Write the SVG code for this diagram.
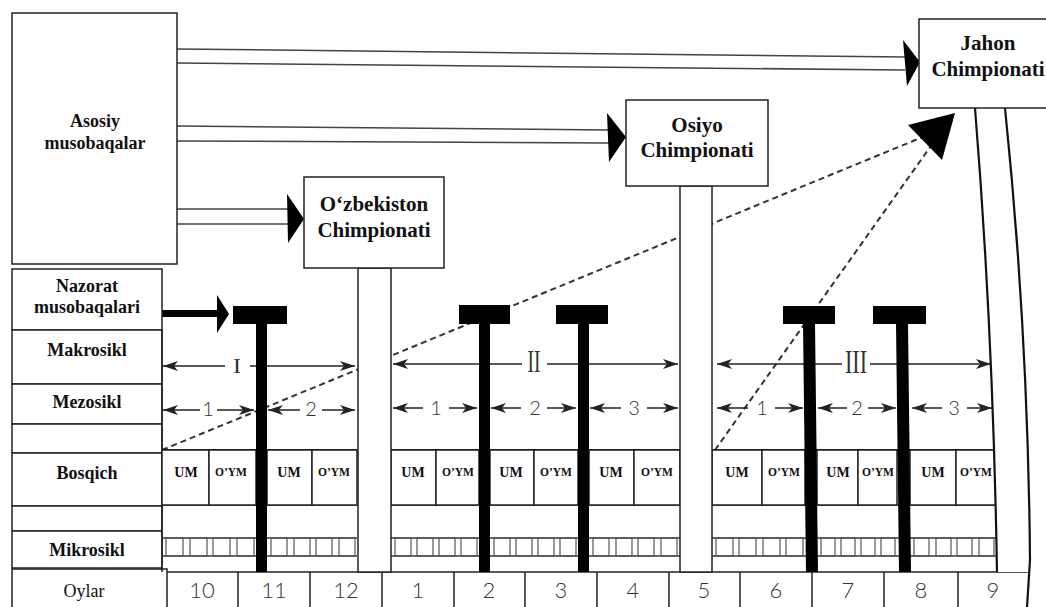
<svg xmlns="http://www.w3.org/2000/svg" width="1046" height="607" viewBox="0 0 1046 607">
<defs>
<style>
.box{fill:#fff;stroke:#222;stroke-width:1.5}
.ln{stroke:#222;stroke-width:1.5;fill:none}
.thick{stroke:#111;stroke-width:2.2;fill:none}
.thin{stroke:#333;stroke-width:1.4;fill:none}
.blk{fill:#000}
.dash{stroke:#333;stroke-width:2;stroke-dasharray:6 4;fill:none}
.pair{stroke:#444;stroke-width:1.5;fill:none}
.arr{stroke:#222;stroke-width:1.5;fill:none;marker-end:url(#ah)}
.sq{fill:none;stroke:#555;stroke-width:1.2}
.lbl{font-family:"Liberation Serif",serif;font-weight:bold;font-size:18px;text-anchor:middle;fill:#111}
.ttl{font-family:"Liberation Serif",serif;font-weight:bold;font-size:21px;text-anchor:middle;fill:#111}
.um{font-family:"Liberation Serif",serif;font-weight:bold;font-size:14px;text-anchor:middle;fill:#111}
.oym{font-family:"Liberation Serif",serif;font-weight:bold;font-size:11.5px;text-anchor:middle;fill:#111}
.num{font-family:Lato,"Liberation Sans",sans-serif;font-weight:300;font-size:20px;text-anchor:middle;fill:#333}
.mon{font-family:Lato,"Liberation Sans",sans-serif;font-weight:300;font-size:22px;text-anchor:middle;fill:#333}
.rom{font-family:"Liberation Serif",serif;text-anchor:middle;fill:#333}
</style>
<marker id="ah" markerWidth="15" markerHeight="10" refX="15" refY="5" orient="auto" markerUnits="userSpaceOnUse">
<path d="M0,0 L15,5 L0,10 L4,5 z" fill="#222"/>
</marker>
</defs>
<rect width="1046" height="607" fill="#fff"/>

<g id="connectors">
<line class="pair" x1="177" y1="49" x2="905" y2="57"/>
<line class="pair" x1="177" y1="63" x2="905" y2="70"/>
<polygon class="blk" points="903,40 907,86 920,62"/>
<line class="pair" x1="177" y1="126" x2="609" y2="130"/>
<line class="pair" x1="177" y1="141" x2="609" y2="143"/>
<polygon class="blk" points="607,113 609,162 626,137"/>
<line class="pair" x1="177" y1="209" x2="288" y2="209"/>
<line class="pair" x1="177" y1="224" x2="288" y2="224"/>
<polygon class="blk" points="287,194 288,243 304,219"/>
<rect class="blk" x="162" y="310" width="56" height="7"/>
<polygon class="blk" points="217,295 229,314 217,333"/>
<path class="dash" d="M162,450 L930,134"/>
<path class="dash" d="M715,450 L933,143"/>
<polygon class="blk" points="908,125 955,113 942,160"/>
</g>

<g id="left-labels">
<rect class="box" x="12" y="13" width="165" height="251"/>
<text class="lbl" x="95" y="127">Asosiy</text>
<text class="lbl" x="95" y="149">musobaqalar</text>
<rect class="box" x="12" y="269" width="150" height="61"/>
<text class="lbl" x="87" y="292">Nazorat</text>
<text class="lbl" x="87" y="313">musobaqalari</text>
<rect class="box" x="12" y="330" width="150" height="54"/>
<text class="lbl" x="87" y="356">Makrosikl</text>
<rect class="box" x="12" y="384" width="150" height="40"/>
<text class="lbl" x="87" y="408">Mezosikl</text>
<rect class="box" x="12" y="424" width="150" height="29"/>
<rect class="box" x="12" y="453" width="150" height="53"/>
<text class="lbl" x="87" y="479">Bosqich</text>
<rect class="box" x="12" y="506" width="150" height="25"/>
<rect class="box" x="12" y="531" width="150" height="37"/>
<text class="lbl" x="87" y="556">Mikrosikl</text>
<rect class="box" x="12" y="569" width="155" height="40"/>
<text x="84" y="597" style="font-family:'Liberation Serif',serif;font-size:18px;text-anchor:middle;fill:#111">Oylar</text>
</g>

<g id="section-1">
<line class="ln" x1="162" y1="330" x2="162" y2="572"/>
<line class="thick" x1="162" y1="450" x2="357" y2="450"/>
<line class="ln" x1="162" y1="505" x2="357" y2="505"/>
<rect class="box" x="162" y="450" width="47" height="55"/><text class="um" x="186" y="477">UM</text>
<rect class="box" x="209" y="450" width="47" height="55"/><text class="oym" x="231" y="476">O’YM</text>
<rect class="box" x="267" y="450" width="45" height="55"/><text class="um" x="289" y="477">UM</text>
<rect class="box" x="312" y="450" width="45" height="55"/><text class="oym" x="334" y="476">O’YM</text>
<line class="thin" x1="162" y1="538" x2="256" y2="538"/><line class="thin" x1="162" y1="556" x2="256" y2="556"/>
<line class="thin" x1="267" y1="538" x2="357" y2="538"/><line class="thin" x1="267" y1="556" x2="357" y2="556"/>
<rect class="sq" x="166" y="538" width="17" height="18"/><rect class="sq" x="190" y="538" width="17" height="18"/><rect class="sq" x="213" y="538" width="17" height="18"/><rect class="sq" x="237" y="538" width="17" height="18"/>
<rect class="sq" x="271" y="538" width="16" height="18"/><rect class="sq" x="294" y="538" width="16" height="18"/><rect class="sq" x="316" y="538" width="16" height="18"/><rect class="sq" x="339" y="538" width="16" height="18"/>
<line class="arr" x1="225" y1="366" x2="163" y2="366"/><line class="arr" x1="250" y1="366" x2="355" y2="366"/>
<text class="rom" x="237" y="373" style="font-size:22px" textLength="8" lengthAdjust="spacingAndGlyphs">I</text>
<line class="arr" x1="200" y1="410" x2="163" y2="410"/><line class="arr" x1="217" y1="410" x2="254" y2="410"/>
<text class="num" x="208" y="416">1</text>
<line class="arr" x1="300" y1="410" x2="268" y2="410"/><line class="arr" x1="322" y1="410" x2="355" y2="410"/>
<text class="num" x="311" y="416">2</text>
</g>

<g id="section-2">
<line class="thick" x1="391" y1="450" x2="680" y2="450"/>
<line class="ln" x1="391" y1="505" x2="680" y2="505"/>
<rect class="box" x="391" y="450" width="45" height="55"/><text class="um" x="413" y="477">UM</text>
<rect class="box" x="436" y="450" width="43" height="55"/><text class="oym" x="458" y="476">O’YM</text>
<rect class="box" x="490" y="450" width="44" height="55"/><text class="um" x="511" y="477">UM</text>
<rect class="box" x="534" y="450" width="44" height="55"/><text class="oym" x="556" y="476">O’YM</text>
<rect class="box" x="589" y="450" width="45" height="55"/><text class="um" x="611" y="477">UM</text>
<rect class="box" x="634" y="450" width="46" height="55"/><text class="oym" x="657" y="476">O’YM</text>
<line class="thin" x1="391" y1="538" x2="680" y2="538"/><line class="thin" x1="391" y1="556" x2="680" y2="556"/>
<rect class="sq" x="395" y="538" width="16" height="18"/><rect class="sq" x="417" y="538" width="16" height="18"/><rect class="sq" x="439" y="538" width="16" height="18"/><rect class="sq" x="461" y="538" width="16" height="18"/>
<rect class="sq" x="494" y="538" width="16" height="18"/><rect class="sq" x="516" y="538" width="16" height="18"/><rect class="sq" x="538" y="538" width="16" height="18"/><rect class="sq" x="560" y="538" width="16" height="18"/>
<rect class="sq" x="593" y="538" width="16" height="18"/><rect class="sq" x="616" y="538" width="16" height="18"/><rect class="sq" x="638" y="538" width="16" height="18"/><rect class="sq" x="661" y="538" width="16" height="18"/>
<line class="arr" x1="522" y1="364" x2="393" y2="364"/><line class="arr" x1="547" y1="364" x2="678" y2="364"/>
<text class="rom" x="534" y="372" style="font-size:32px" textLength="13" lengthAdjust="spacingAndGlyphs">II</text>
<line class="arr" x1="423" y1="408" x2="393" y2="408"/><line class="arr" x1="449" y1="408" x2="477" y2="408"/>
<text class="num" x="436" y="415">1</text>
<line class="arr" x1="521" y1="408" x2="491" y2="408"/><line class="arr" x1="547" y1="408" x2="576" y2="408"/>
<text class="num" x="535" y="415">2</text>
<line class="arr" x1="621" y1="408" x2="590" y2="408"/><line class="arr" x1="647" y1="408" x2="678" y2="408"/>
<text class="num" x="634" y="415">3</text>
</g>

<g id="section-3">
<line class="thick" x1="712" y1="450" x2="996" y2="450"/>
<line class="ln" x1="712" y1="505" x2="996" y2="505"/>
<rect class="box" x="712" y="450" width="50" height="55"/><text class="um" x="737" y="477">UM</text>
<rect class="box" x="762" y="450" width="43" height="55"/><text class="oym" x="784" y="476">O’YM</text>
<rect class="box" x="817" y="450" width="41" height="55"/><text class="um" x="838" y="477">UM</text>
<rect class="box" x="858" y="450" width="39" height="55"/><text class="oym" x="878" y="476">O’YM</text>
<rect class="box" x="910" y="450" width="46" height="55"/><text class="um" x="933" y="477">UM</text>
<rect class="box" x="956" y="450" width="40" height="55"/><text class="oym" x="976" y="476">O’YM</text>
<line class="thin" x1="712" y1="538" x2="996" y2="538"/><line class="thin" x1="712" y1="556" x2="996" y2="556"/>
<rect class="sq" x="716" y="538" width="17" height="18"/><rect class="sq" x="739" y="538" width="17" height="18"/><rect class="sq" x="763" y="538" width="17" height="18"/><rect class="sq" x="786" y="538" width="17" height="18"/>
<rect class="sq" x="821" y="538" width="14" height="18"/><rect class="sq" x="841" y="538" width="14" height="18"/><rect class="sq" x="861" y="538" width="14" height="18"/><rect class="sq" x="881" y="538" width="14" height="18"/>
<rect class="sq" x="914" y="538" width="15" height="18"/><rect class="sq" x="936" y="538" width="15" height="18"/><rect class="sq" x="957" y="538" width="15" height="18"/><rect class="sq" x="979" y="538" width="15" height="18"/>
<line class="arr" x1="842" y1="364" x2="717" y2="364"/><line class="arr" x1="870" y1="364" x2="991" y2="364"/>
<text class="rom" x="856" y="373" style="font-size:34px" textLength="22" lengthAdjust="spacingAndGlyphs">III</text>
<line class="arr" x1="748" y1="408" x2="717" y2="408"/><line class="arr" x1="775" y1="408" x2="803" y2="408"/>
<text class="num" x="762" y="415">1</text>
<line class="arr" x1="847" y1="408" x2="818" y2="408"/><line class="arr" x1="868" y1="408" x2="896" y2="408"/>
<text class="num" x="857" y="415">2</text>
<line class="arr" x1="942" y1="408" x2="912" y2="408"/><line class="arr" x1="967" y1="408" x2="992" y2="408"/>
<text class="num" x="954" y="415">3</text>
</g>

<g id="oylar-row">
<line class="ln" x1="167" y1="572" x2="1030" y2="572"/>
<path class="ln" d="M238,572V607M310,572V607M382,572V607M454,572V607M525,572V607M597,572V607M669,572V607M740,572V607M812,572V607M884,572V607M958,572V607"/>
<text class="mon" x="202" y="598">10</text>
<text class="mon" x="274" y="598">11</text>
<text class="mon" x="346" y="598">12</text>
<text class="mon" x="418" y="598">1</text>
<text class="mon" x="489" y="598">2</text>
<text class="mon" x="561" y="598">3</text>
<text class="mon" x="633" y="598">4</text>
<text class="mon" x="704" y="598">5</text>
<text class="mon" x="776" y="598">6</text>
<text class="mon" x="848" y="598">7</text>
<text class="mon" x="921" y="598">8</text>
<text class="mon" x="993" y="598">9</text>
</g>

<g id="t-markers">
<rect class="blk" x="233" y="306" width="54" height="18"/><rect class="blk" x="256" y="323" width="11" height="249"/>
<rect class="blk" x="459" y="305" width="51" height="19"/><rect class="blk" x="479" y="323" width="11" height="249"/>
<rect class="blk" x="556" y="305" width="52" height="19"/><rect class="blk" x="578" y="323" width="11" height="249"/>
<rect class="blk" x="783" y="306" width="52" height="18"/><polygon class="blk" points="803,323 815,323 818,572 806,572"/>
<rect class="blk" x="873" y="306" width="53" height="18"/><polygon class="blk" points="896,323 908,323 911,572 899,572"/>
</g>

<g id="uzbekiston">
<rect class="box" x="358" y="268" width="33" height="304"/>
<rect class="box" x="304" y="177" width="140" height="91"/>
<text class="ttl" x="374" y="211">O‘zbekiston</text>
<text class="ttl" x="374" y="237">Chimpionati</text>
</g>

<g id="osiyo">
<rect class="box" x="680" y="186" width="32" height="386"/>
<rect class="box" x="626" y="100" width="142" height="86"/>
<text class="ttl" x="697" y="132">Osiyo</text>
<text class="ttl" x="697" y="157">Chimpionati</text>
</g>

<g id="jahon">
<path d="M975,108 Q993,330 997,572 L1030,572 Q1028,330 1005,108 Z" fill="#fff"/>
<path class="thick" d="M975,108 Q993,330 997,572"/>
<path class="thick" d="M1005,108 Q1028,330 1030,560 L1027,607"/>
<rect class="box" x="919" y="19" width="140" height="89"/>
<text class="ttl" x="988" y="50">Jahon</text>
<text class="ttl" x="988" y="76">Chimpionati</text>
</g>
</svg>
